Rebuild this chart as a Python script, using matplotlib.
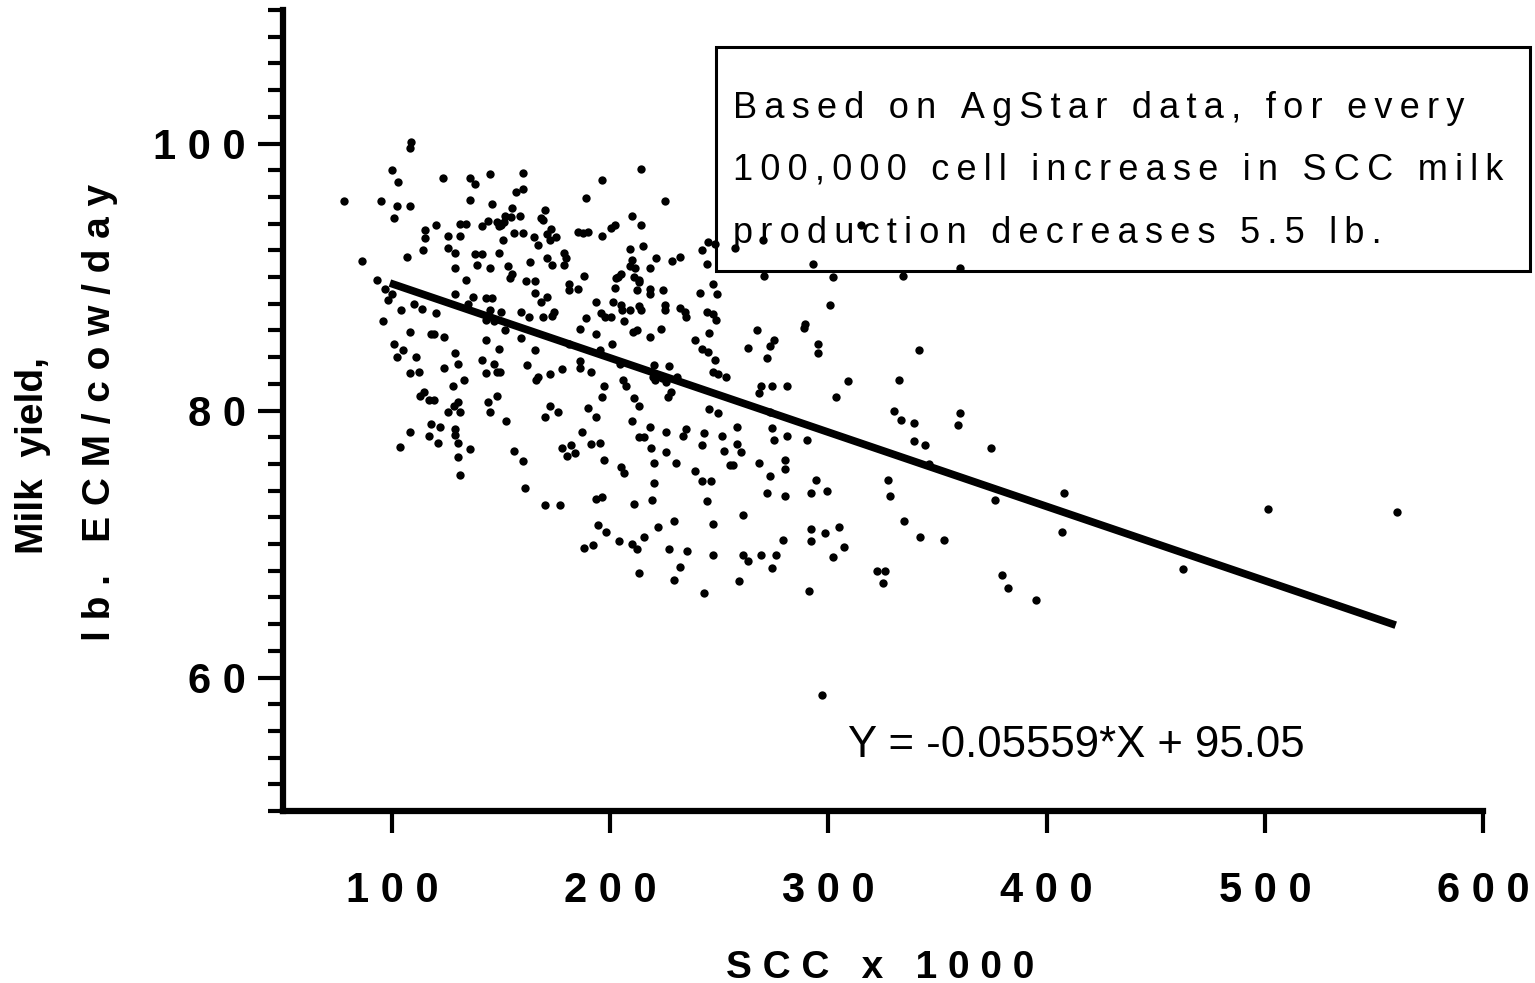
import numpy as np
import matplotlib
matplotlib.use("Agg")
import matplotlib.pyplot as plt
from matplotlib.patches import Rectangle
from matplotlib.ticker import MultipleLocator

plt.rcParams['font.family'] = ['Liberation Sans', 'DejaVu Sans']

# --- dati (SCC x 1000, resa latte lb ECM/vacca/giorno) ---
# nuvola in alto a sinistra
scc_a = [108.7, 108.1, 99.9, 102.9, 123.3, 135.9, 138.1, 145.1, 160.1,
         77.8, 95.0, 102.2, 108.1, 101.1, 135.9, 146.0, 157.0, 160.1, 154.9,
         158.7, 151.7, 154.6, 144.0, 141.1, 148.0, 150.0, 151.2, 148.8, 131.1,
         134.1, 120.0, 115.0, 115.0, 125.8, 131.2, 156.1, 160.2, 150.9,
         86.1, 107.0, 114.1, 125.8, 129.0, 138.1, 141.3, 149.2, 163.3, 128.9,
         139.0, 145.1, 153.1, 154.9, 154.1, 161.6, 134.1, 93.3, 96.9, 99.9,
         98.0, 128.9, 137.2, 143.1, 145.6, 135.0, 110.0, 104.0, 113.9, 120.0,
         145.1, 150.0, 158.9, 162.8, 96.0, 143.1, 146.9]
milk_a = [100.1, 99.7, 98.0, 97.1, 97.4, 97.4, 97.0, 97.7, 97.8,
          95.7, 95.7, 95.3, 95.3, 94.4, 95.8, 95.5, 96.4, 96.6, 95.2,
          94.6, 94.6, 94.5, 94.2, 93.8, 94.1, 93.9, 94.1, 93.8, 94.0,
          94.0, 93.9, 93.5, 92.9, 93.1, 93.1, 93.3, 93.3, 92.8,
          91.2, 91.5, 92.0, 92.2, 91.8, 91.7, 91.7, 91.8, 91.1, 90.7,
          90.9, 90.7, 90.8, 90.2, 89.9, 89.7, 89.8, 89.8, 89.1, 88.7,
          88.3, 88.7, 88.5, 88.4, 88.4, 88.0, 88.0, 87.5, 87.6, 87.3,
          87.5, 87.4, 87.4, 87.0, 86.7, 86.8, 86.7]

# nuvola in alto al centro
scc_b = [214.2, 196.2, 189.1, 225.2, 169.9, 168.3, 169.1, 210.0, 214.2, 200.5,
         202.3, 185.2, 187.5, 190.0, 172.9, 171.1, 172.2, 175.2, 165.0, 196.2,
         167.1, 209.0, 215.1, 244.8, 247.8, 242.1, 179.0, 179.7, 179.0, 171.1,
         173.3, 210.0, 221.1, 232.1, 228.1, 244.2, 209.0, 211.5, 218.2, 187.9,
         205.0, 203.5, 202.8, 210.9, 213.0, 213.2, 165.3, 247.2, 181.1, 181.1,
         185.2, 202.0, 212.1, 218.2, 218.2, 224.2, 241.1, 249.1, 165.3, 171.0,
         168.3, 193.3, 201.1, 204.7, 205.4, 208.9, 213.0, 214.2, 225.2, 225.2,
         232.1, 234.1, 234.9, 244.2, 247.1, 248.6, 174.2, 173.3, 169.1, 195.9,
         197.7, 200.5, 189.1, 206.3,
         257.3, 270.2, 315.1, 270.3, 293.1, 302.2, 334.1, 300.9, 289.4]
milk_b = [98.1, 97.3, 95.9, 95.7, 95.0, 94.4, 94.3, 94.6, 93.9, 93.7,
          93.9, 93.4, 93.3, 93.4, 93.6, 93.2, 92.8, 93.0, 93.0, 93.1,
          92.4, 92.1, 92.3, 92.6, 92.5, 92.0, 91.8, 91.4, 90.9, 91.4,
          90.9, 91.3, 91.4, 91.5, 91.2, 91.0, 90.8, 90.7, 90.7, 90.1,
          90.2, 90.0, 89.9, 90.0, 89.8, 89.6, 89.7, 89.5, 89.5, 89.0,
          89.1, 89.2, 89.0, 89.1, 88.7, 89.0, 88.8, 88.7, 88.8, 88.5,
          88.1, 88.1, 88.1, 87.9, 87.5, 87.5, 87.8, 87.5, 87.9, 87.5,
          87.7, 87.4, 87.0, 87.4, 87.2, 86.8, 87.4, 87.1, 87.0, 87.3,
          87.0, 87.0, 86.9, 86.7,
          92.2, 92.8, 93.9, 90.1, 91.0, 90.0, 90.1, 87.9, 86.5]

# parte bassa a sinistra
scc_c = [108.1, 117.9, 119.4, 124.0, 143.0, 151.8, 158.9, 101.1, 104.9, 102.2,
         111.0, 128.9, 149.2, 141.1, 146.9, 148.0, 149.5, 143.0, 130.1, 124.0,
         161.9, 108.1, 112.2, 132.9, 128.1, 114.8, 113.0, 117.1, 119.4, 148.2,
         143.9, 145.1, 130.1, 128.6, 131.2, 125.8, 152.2, 117.9, 122.0, 108.1,
         128.9, 128.9, 130.1, 117.0, 121.0, 103.8, 135.9, 156.1, 160.1, 130.1,
         131.1, 161.1]
milk_c = [85.9, 85.7, 85.7, 85.5, 85.3, 86.0, 85.4, 85.0, 84.5, 84.0,
          84.0, 84.3, 84.6, 83.8, 83.5, 82.9, 82.9, 82.8, 83.5, 83.2,
          83.4, 82.8, 82.9, 82.3, 81.8, 81.4, 81.1, 80.8, 80.8, 81.1,
          80.6, 79.9, 80.6, 80.3, 79.9, 79.9, 79.2, 79.0, 78.8, 78.4,
          78.6, 78.2, 77.6, 78.1, 77.6, 77.3, 77.1, 77.0, 76.2, 76.5,
          75.2, 74.2]

# parte bassa al centro
scc_d = [185.9, 193.3, 210.4, 212.4, 218.2, 223.1, 245.3, 239.0, 200.9, 165.3,
         242.1, 244.8, 248.2, 195.3, 181.3, 185.9, 185.9, 178.1, 191.0, 172.2,
         167.1, 165.9, 204.3, 220.0, 227.1, 219.7, 220.3, 223.9, 225.7, 230.7,
         246.9, 249.4, 253.2, 205.8, 207.2, 197.1, 228.0, 226.5, 196.2, 211.1,
         213.0, 172.2, 176.0, 169.9, 190.0, 193.3, 245.1, 249.4, 210.0, 218.3,
         187.0, 234.9, 233.3, 225.4, 243.0, 251.2, 213.0, 215.5, 195.1, 191.0,
         178.1, 182.1, 180.3, 183.9, 242.1, 218.7, 225.4, 252.2, 197.1, 220.0,
         230.0, 255.0, 205.0, 206.3, 239.0, 220.0, 242.1, 246.0, 193.6, 196.3,
         219.3, 244.2, 169.9, 177.1, 211.1, 194.4, 221.9, 229.2, 247.2,
         198.2, 187.9, 192.1, 204.1, 210.0, 212.4, 215.3, 227.1, 235.0, 247.2,
         232.1, 213.0, 229.2, 243.0]
milk_d = [86.1, 85.7, 85.9, 86.0, 85.5, 86.1, 85.8, 85.3, 85.0, 84.5,
          84.6, 84.4, 83.8, 84.5, 85.0, 83.7, 83.2, 83.1, 82.9, 82.7,
          82.5, 82.3, 83.5, 83.4, 83.3, 82.5, 82.3, 82.4, 82.1, 82.5,
          82.9, 82.7, 82.5, 82.3, 81.8, 81.8, 81.4, 81.0, 81.0, 80.9,
          80.3, 80.3, 79.9, 79.5, 80.2, 79.5, 80.1, 79.8, 79.2, 78.8,
          78.4, 78.6, 78.1, 78.4, 78.3, 78.1, 78.0, 78.0, 77.6, 77.5,
          77.2, 77.4, 76.6, 76.8, 77.4, 77.2, 76.9, 77.0, 76.3, 76.1,
          76.1, 75.9, 75.8, 75.3, 75.5, 74.6, 74.7, 74.7, 73.4, 73.5,
          73.3, 73.2, 72.9, 72.9, 73.0, 71.4, 71.3, 71.7, 71.5,
          70.9, 69.7, 69.9, 70.2, 70.0, 69.6, 70.5, 69.6, 69.5, 69.2,
          68.3, 67.8, 67.3, 66.3]

# parte destra (SCC alto)
scc_e = [267.1, 289.0, 263.2, 275.1, 273.3, 272.0, 295.3, 295.3, 341.3, 309.0,
         332.2, 268.9, 268.0, 274.2, 281.2, 303.3, 273.1, 330.1, 333.2, 339.3,
         258.3, 274.2, 275.1, 281.2, 290.0, 258.3, 260.1, 339.3, 344.2, 256.4,
         268.2, 280.0, 280.0, 273.4, 346.0, 294.2, 327.1, 292.2, 299.2, 272.0,
         280.0, 328.3, 261.0, 292.2, 305.0, 334.6,
         298.3, 292.2, 279.0, 261.0, 263.2, 269.1, 276.1, 274.2, 259.2, 302.0,
         307.3, 342.1, 322.2, 326.1, 325.2, 291.0, 297.1,
         360.2, 360.2, 359.2, 374.3, 376.3, 353.1, 408.1, 407.2, 379.4, 382.1,
         395.3, 462.3, 501.4, 560.4]
milk_e = [86.0, 86.2, 84.7, 85.3, 84.8, 83.9, 85.0, 84.3, 84.5, 82.2,
          82.3, 81.8, 81.3, 81.8, 81.8, 81.0, 79.9, 80.0, 79.3, 79.1,
          78.8, 78.7, 77.8, 78.1, 77.8, 77.5, 76.9, 77.7, 77.4, 75.9,
          76.1, 76.3, 75.6, 75.1, 76.0, 74.8, 74.8, 73.8, 74.0, 73.8,
          73.6, 73.6, 72.2, 71.1, 71.3, 71.7,
          70.8, 70.2, 70.3, 69.2, 68.7, 69.2, 69.2, 68.2, 67.2, 69.0,
          69.8, 70.5, 68.0, 68.0, 67.1, 66.5, 58.7,
          90.7, 79.8, 78.9, 77.2, 73.3, 70.3, 73.8, 70.9, 67.7, 66.7,
          65.8, 68.1, 72.6, 72.4]

# retta di regressione
slope = -0.05559
intercept = 95.05
fit_range = [99.0, 560.0]

x_ticks = [100, 200, 300, 400, 500, 600]
y_ticks = [60, 80, 100]

box_lines = ["Based on AgStar data, for every",
             "100,000 cell increase in SCC milk",
             "production decreases 5.5 lb."]
equation = "Y = -0.05559*X + 95.05"


def spaced(text, gap=' '):
    # testo "allargato" come nell'originale
    return gap.join(text)


scc = np.array(scc_a + scc_b + scc_c + scc_d + scc_e)
milk = np.array(milk_a + milk_b + milk_c + milk_d + milk_e)

W, H = 1535, 983
fig = plt.figure(figsize=(W / 100, H / 100), dpi=100)
ax = fig.add_axes([283 / W, 1 - 811 / H, (1483 - 283) / W, (811 - 10) / H])

ax.scatter(scc, milk, s=36, color='black', linewidths=0, zorder=3, clip_on=False)
xs = np.array(fit_range)
ax.plot(xs, slope * xs + intercept, color='black', lw=5.5, solid_capstyle='butt', zorder=4)

ax.set_xlim(50, 600)
ax.set_ylim(50, 110)

for side in ['top', 'right']:
    ax.spines[side].set_visible(False)
for side in ['left', 'bottom']:
    ax.spines[side].set_linewidth(4.5)

ax.set_xticks(x_ticks)
ax.set_xticklabels([spaced(str(v)) for v in x_ticks], fontsize=30, fontweight='bold')
ax.set_yticks(y_ticks)
ax.set_yticklabels([spaced(str(v)) for v in y_ticks], fontsize=30, fontweight='bold')
ax.yaxis.set_minor_locator(MultipleLocator(2))

ax.tick_params(axis='y', which='major', length=18, width=3, pad=9)
ax.tick_params(axis='y', which='minor', length=11, width=3)
ax.tick_params(axis='x', which='major', length=16, width=3, pad=27)

# etichette degli assi
fig.text(880 / W, 1 - 968 / H, spaced("SCC x 1000"), fontsize=28, fontweight='bold',
         ha='center', va='center')
fig.text(33 / W, 1 - 455 / H, "Milk  yield,", fontsize=28, fontweight='bold',
         ha='center', va='center', rotation=90)
fig.text(100 / W, 1 - 412 / H, spaced("lb. ECM/cow/day"), fontsize=28, fontweight='bold',
         ha='center', va='center', rotation=90)

# riquadro con il commento
fig.add_artist(Rectangle((716 / W, 1 - 271 / H), (1530 - 716) / W, (271 - 47) / H,
                         transform=fig.transFigure, fill=False, lw=2.2, ec='black'))
for line, base in zip(box_lines, [118, 180, 243]):
    fig.text(733 / W, 1 - base / H, spaced(line, '\u2009'), fontsize=26,
             ha='left', va='baseline')

fig.text(848 / W, 1 - 757 / H, equation, fontsize=31.5, ha='left', va='baseline')

fig.savefig('out.png', dpi=100)
